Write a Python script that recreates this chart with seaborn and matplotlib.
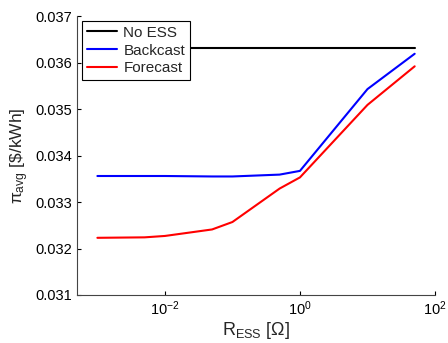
import matplotlib
matplotlib.use("Agg")
from matplotlib import pyplot as plt
import seaborn as sns
import pandas as pd
import numpy as np

# data
r_ess = [0.001, 0.005, 0.01, 0.05, 0.1, 0.5, 1, 10, 50]
no_ess = [0.03631, 0.03631, 0.03631, 0.03631, 0.03631, 0.03631, 0.03631, 0.03631, 0.03631]
backcast = [0.03356, 0.03356, 0.03356, 0.03355, 0.03355, 0.03359, 0.03367, 0.03543, 0.03619]
forecast = [0.03223, 0.03224, 0.03227, 0.03241, 0.03257, 0.03329, 0.03353, 0.03509, 0.03592]

labels = ["No ESS", "Backcast", "Forecast"]
colors = ["black", "blue", "red"]

df = pd.concat([
    pd.DataFrame({"R": r_ess, "pi": no_ess, "case": labels[0]}),
    pd.DataFrame({"R": r_ess, "pi": backcast, "case": labels[1]}),
    pd.DataFrame({"R": r_ess, "pi": forecast, "case": labels[2]}),
])

sns.set_style("ticks")
plt.rcParams['font.family'] = ['Liberation Sans', 'DejaVu Sans']
plt.rcParams['mathtext.fontset'] = 'custom'
plt.rcParams['mathtext.rm'] = 'Liberation Sans'
plt.rcParams['mathtext.it'] = 'Liberation Sans'

fig = plt.figure(figsize=(4.48, 3.43), dpi=100)
ax = fig.add_axes([0.172, 0.140, 0.799, 0.813])

sns.lineplot(ax=ax, data=df, x="R", y="pi", hue="case", hue_order=labels,
             palette=colors, linewidth=1.5, estimator=None, sort=False)

ax.set_xscale("log")
ax.set_xlim(5e-4, 100)
ax.set_ylim(0.031, 0.037)
ax.set_xticks([1e-2, 1e0, 1e2])
ax.set_xticklabels([r"$10^{-2}$", r"$10^{0}$", r"$10^{2}$"])
ax.xaxis.set_minor_locator(matplotlib.ticker.NullLocator())
ax.set_yticks(np.arange(0.031, 0.0371, 0.001))
ax.set_yticklabels(["%.3f" % v for v in np.arange(0.031, 0.0371, 0.001)])
ax.tick_params(direction="in", length=3, labelsize=10.5, colors="black")
for s in ["left", "bottom"]:
    ax.spines[s].set_color("#444444")
sns.despine(ax=ax)

ax.set_xlabel(r"R$_{\mathrm{ESS}}$ [$\Omega$]", fontsize=13, labelpad=1)
ax.set_ylabel(r"$\pi_{\mathrm{avg}}$ [\$/kWh]", fontsize=12.5, labelpad=3)

leg = ax.legend(loc="upper left", bbox_to_anchor=(0.014, 0.982), borderaxespad=0,
                fontsize=11, frameon=True, fancybox=False, edgecolor="black",
                framealpha=1, title=None, handlelength=2.0, borderpad=0.3,
                labelspacing=0.25, handletextpad=0.4)
leg.get_frame().set_linewidth(0.8)

fig.savefig("out.png", dpi=100)
